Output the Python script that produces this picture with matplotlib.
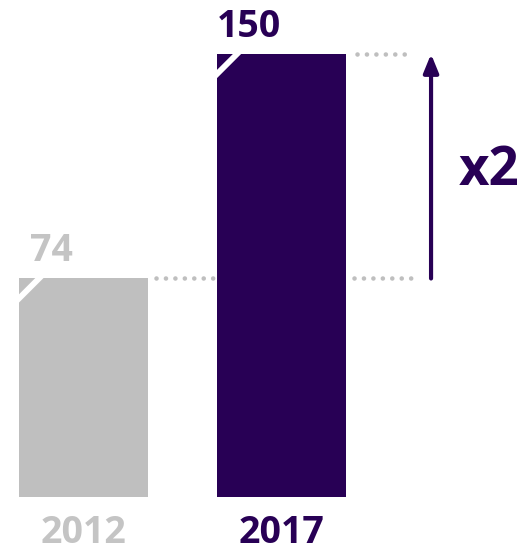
import matplotlib
matplotlib.use("Agg")
import matplotlib.pyplot as plt

years = ["2012", "2017"]
values = [74, 150]
colors = ["#BFBFBF", "#280055"]
label_colors = ["#C4C4C4", "#280055"]
ratio_label = "x2"

plt.rcParams['font.family'] = ['Open Sans', 'DejaVu Sans']

fig = plt.figure(figsize=(5.25, 5.51), dpi=100)
ax = fig.add_axes([0, 0, 1, 1])
ax.set_xlim(-0.4217, 2.2298)
ax.set_ylim(-18.28, 168.3)
ax.axis('off')

width = 0.652
pos = list(range(len(values)))
bars = ax.bar(pos, values, width, color=colors)

# px -> data helpers (x: 198 px per unit, y: 2.953 px per unit)
px_x = 1 / 198
px_y = 1 / 2.953

for i, b in enumerate(bars):
    x0 = b.get_x()
    top = b.get_height()
    # white diagonal cut on top-left corner
    ln, = ax.plot([x0 - 4 * px_x, x0 + 24 * px_x], [top - 24 * px_y, top + 4 * px_y],
                  color='white', lw=4.2, solid_capstyle='butt')
    ln.set_clip_path(b)
    ax.text(x0 + 32 * px_x, top + 17 * px_y, str(values[i]), ha='center', va='baseline',
            fontsize=27, fontweight='bold', color=label_colors[i])
    ax.text(pos[i], -15.6, years[i], ha='center', va='baseline',
            fontsize=27, fontweight='bold', color=label_colors[i])

# dotted guide lines
dot = dict(color='#BFBFBF', lw=3.3, linestyle=(0, (0.01, 2.05)), dash_capstyle='round')
r0 = bars[0].get_x() + width
l1 = bars[1].get_x()
r1 = l1 + width
ax.plot([r0 + 8 * px_x, l1 - 4 * px_x], [values[0]] * 2, **dot)
ax.plot([r1 + 8 * px_x, r1 + 65 * px_x], [values[0]] * 2, **dot)
ax.plot([r1 + 11 * px_x, r1 + 60 * px_x], [values[1]] * 2, **dot)

# arrow
ax_x = r1 + 85 * px_x
ax.annotate('', xy=(ax_x, values[1]), xytext=(ax_x, values[0]),
            arrowprops=dict(arrowstyle='-|>,head_length=1.1,head_width=0.45',
                            color=colors[1], lw=3, shrinkA=0, shrinkB=0))
ax.text(ax_x + 28 * px_x, (values[0] + values[1]) / 2 - 19 * px_y, ratio_label,
        ha='left', va='baseline', fontsize=38, fontweight='bold', color=colors[1])

fig.savefig("out.png", dpi=100)
